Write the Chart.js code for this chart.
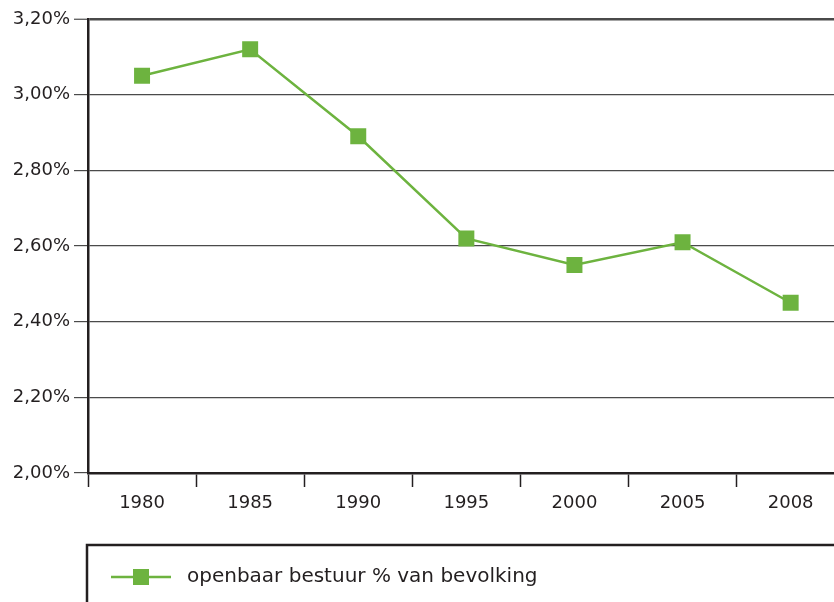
<!DOCTYPE html>
<html>
<head>
<meta charset="utf-8">
<script src="https://cdn.jsdelivr.net/npm/chart.js@4"></script>
<style>
  body { margin: 0; background: #fff; }
  #wrap { width: 834px; height: 602px; overflow: hidden; }
</style>
</head>
<body>
<div id="wrap"><canvas id="myChart" width="856" height="602"></canvas></div>
<script>
'use strict';

const years = ['1980', '1985', '1990', '1995', '2000', '2005', '2008'];
const shares = [3.05, 3.12, 2.89, 2.62, 2.55, 2.61, 2.45];
const seriesName = 'openbaar bestuur % van bevolking';
const yMin = 2.0;
const yMax = 3.2;
const yStep = 0.2;

const green = '#6db33f';
const ink = '#231f20';
const font = '"DejaVu Sans", sans-serif';

// legend box below the plot, drawn by hand
const legendBox = {
  id: 'legendBox',
  afterDraw(chart) {
    const c = chart.ctx;
    const left = chart.chartArea.left - 1;
    const top = 545;
    c.save();
    c.strokeStyle = ink;
    c.lineWidth = 2.5;
    c.beginPath();
    c.moveTo(left, chart.height + 2);
    c.lineTo(left, top);
    c.lineTo(chart.width, top);
    c.stroke();

    const ds = chart.data.datasets[0];
    const y = 577;
    c.strokeStyle = ds.borderColor;
    c.lineWidth = 2.5;
    c.beginPath();
    c.moveTo(111, y);
    c.lineTo(171, y);
    c.stroke();
    c.fillStyle = ds.pointBackgroundColor;
    c.fillRect(133, y - 8, 16, 16);

    c.fillStyle = ink;
    c.font = '20px ' + font;
    c.textBaseline = 'middle';
    c.fillText(ds.label, 187, y);
    c.restore();
  }
};

const ctx = document.getElementById('myChart');

new Chart(ctx, {
  type: 'line',
  data: {
    labels: years,
    datasets: [{
      label: seriesName,
      data: shares,
      borderColor: green,
      borderWidth: 2.5,
      pointStyle: 'rect',
      pointRadius: 11.3,
      pointBorderWidth: 0,
      pointBackgroundColor: green,
      pointBorderColor: green,
      tension: 0
    }]
  },
  options: {
    responsive: false,
    animation: false,
    layout: { padding: { top: 19, left: 0, right: 0, bottom: 0 } },
    plugins: {
      legend: { display: false },
      tooltip: { enabled: false }
    },
    scales: {
      x: {
        offset: true,
        grid: {
          offset: true,
          drawOnChartArea: false,
          drawTicks: true,
          tickLength: 14,
          tickColor: ink,
          tickWidth: 1.5
        },
        border: { color: ink, width: 2.5 },
        ticks: {
          color: ink,
          font: { family: font, size: 18 },
          padding: 6,
          maxRotation: 0
        },
        afterFit(scale) {
          scale.height = 129;
          scale.paddingLeft = 0;
          scale.paddingRight = 0;
        }
      },
      y: {
        min: yMin,
        max: yMax,
        grid: {
          color: '#4a4a4a',
          lineWidth: (c) => Math.abs(c.tick.value - yMax) < 1e-6 ? 2.5 : 1.2,
          tickLength: 14,
          tickColor: '#4a4a4a',
          tickWidth: 1.2
        },
        border: { color: ink, width: 2.5 },
        ticks: {
          stepSize: yStep,
          color: ink,
          padding: 4,
          font: { family: font, size: 18 },
          callback: (v) => Number(v).toFixed(2).replace('.', ',') + '%'
        },
        afterFit(scale) { scale.width = 88; }
      }
    }
  },
  plugins: [legendBox]
});
</script>
</body>
</html>
